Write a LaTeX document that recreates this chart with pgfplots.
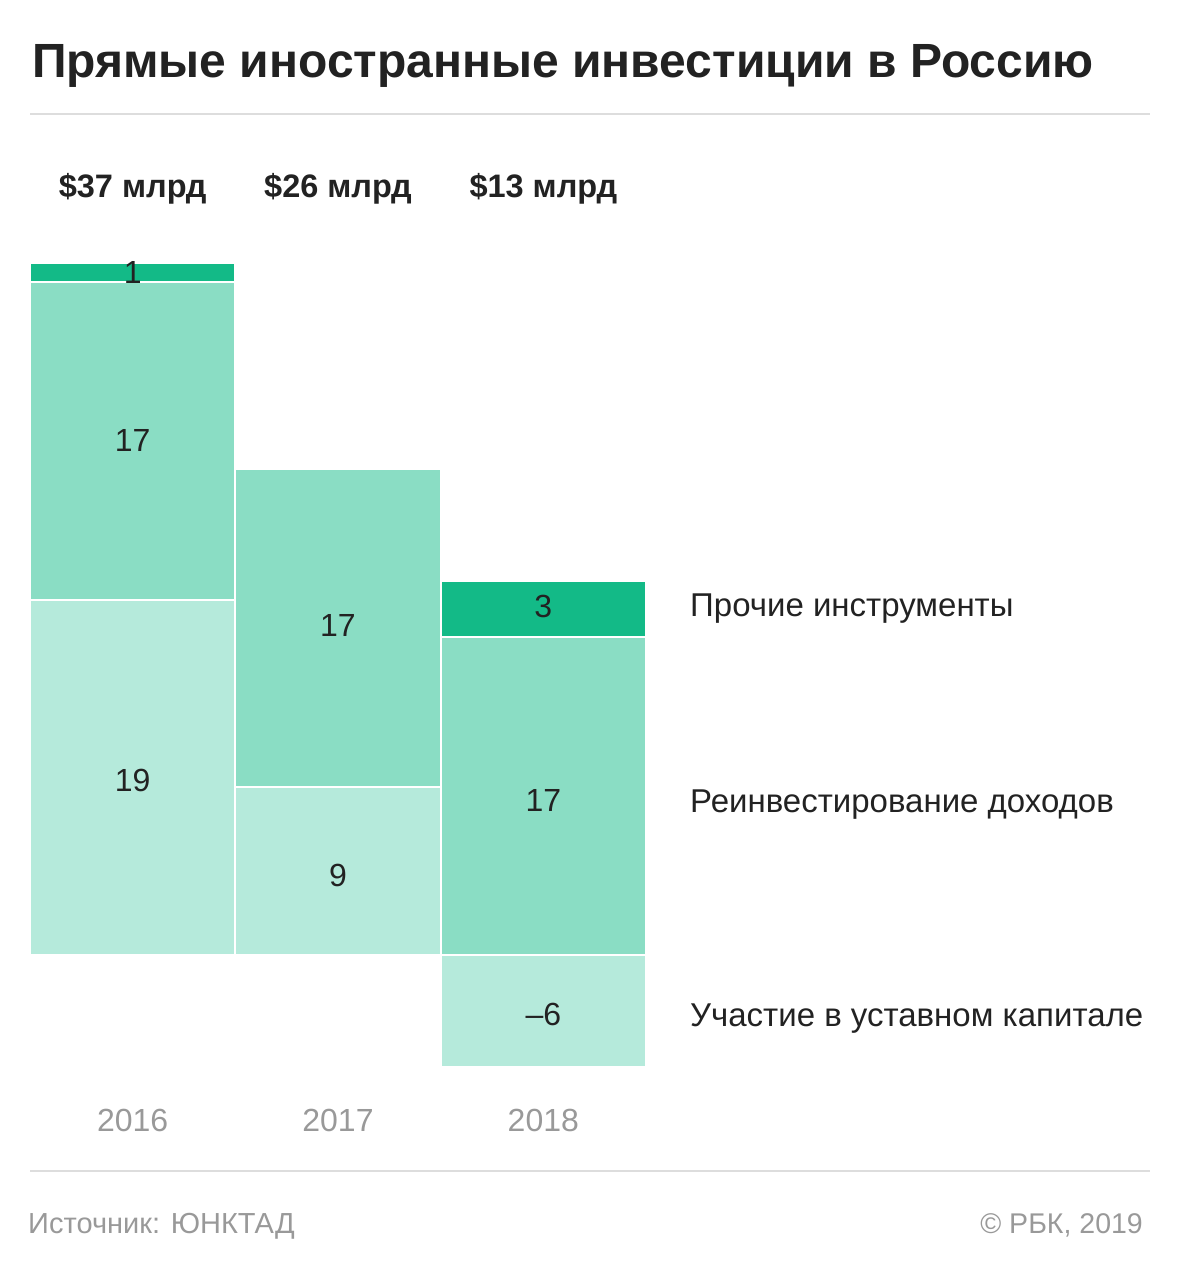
\documentclass[border=0pt]{standalone}
\usepackage{pgfplots}
\pgfplotsset{compat=1.18}
\usepackage{fontspec}
\setmainfont{Liberation Sans}

\definecolor{cOther}{HTML}{13BA87}
\definecolor{cReinv}{HTML}{8ADDC4}
\definecolor{cEquity}{HTML}{B5EADB}
\definecolor{txt}{HTML}{222222}
\definecolor{grayt}{HTML}{999999}
\definecolor{rulec}{HTML}{DDDDDD}

% common geometry: 1 px of the reference = 1 pt
\pgfplotsset{
  frame/.style={at={(30pt,-1067pt)}, anchor=south west, scale only axis,
    width=616pt, height=804.1pt, xmin=-0.5, xmax=2.5, ymin=-6, ymax=37,
    hide axis, clip=false},
  seg/.style={draw=white, line width=2pt},
  lbl/.style={draw=none, mark=none, nodes near coords, point meta=explicit symbolic,
    every node near coord/.append style={anchor=center, text=txt,
      font=\fontsize{32}{38}\selectfont}},
}

\begin{document}
\begin{tikzpicture}
\path (0,0) rectangle (1180pt,-1274pt);

\node[anchor=base west, inner sep=0, text=txt, font=\fontsize{48}{56}\selectfont\bfseries]
  at (32pt,-77pt) {Прямые иностранные инвестиции в Россию};
\draw[rulec, line width=2pt] (30pt,-114pt) -- (1150pt,-114pt);

\begin{axis}[frame, ybar stacked, bar width=205.33pt]
% участие в уставном капитале (положительная часть)
\addplot[seg, fill=cEquity] coordinates {(0,19) (1,9) (2,0)};
% реинвестирование доходов
\addplot[seg, fill=cReinv] coordinates {(0,17) (1,17) (2,17)};
% прочие инструменты
\addplot[seg, fill=cOther] coordinates {(0,1) (1,0) (2,3)};
\end{axis}

\begin{axis}[frame]
% отрицательное участие в капитале, 2018
\addplot[ybar, bar width=205.33pt, bar shift=0pt, seg, fill=cEquity] coordinates {(2,-6)};
% подписи сегментов
\addplot[lbl] coordinates {(0,9.3)[19] (0,27.5)[17] (0,36.5)[1]
  (1,4.25)[9] (1,17.6)[17] (2,-3.2)[–6] (2,8.25)[17] (2,18.65)[3]};
% годы
\addplot[lbl, every node near coord/.append style={text=grayt}]
  coordinates {(0,-8.88)[2016] (1,-8.88)[2017] (2,-8.88)[2018]};
% итоги
\addplot[lbl, every node near coord/.append style={font=\fontsize{32.5}{38}\selectfont\bfseries}]
  coordinates {(0,40.96)[\$37 млрд] (1,40.96)[\$26 млрд] (2,40.96)[\$13 млрд]};
\end{axis}

\begin{scope}[every node/.style={anchor=base west, inner sep=0, text=txt,
    font=\fontsize{33}{38}\selectfont}]
\node at (690pt,-616pt) {Прочие инструменты};
\node at (690pt,-812pt) {Реинвестирование доходов};
\node at (690pt,-1026pt) {Участие в уставном капитале};
\end{scope}

\draw[rulec, line width=2pt] (30pt,-1171pt) -- (1150pt,-1171pt);
\node[anchor=base west, inner sep=0, text=grayt, font=\fontsize{29}{34}\selectfont]
  at (28pt,-1233pt) {Источник: ЮНКТАД};
\node[anchor=base east, inner sep=0, text=grayt, font=\fontsize{28.5}{34}\selectfont]
  at (1143pt,-1233pt) {© РБК, 2019};
\end{tikzpicture}
\end{document}
